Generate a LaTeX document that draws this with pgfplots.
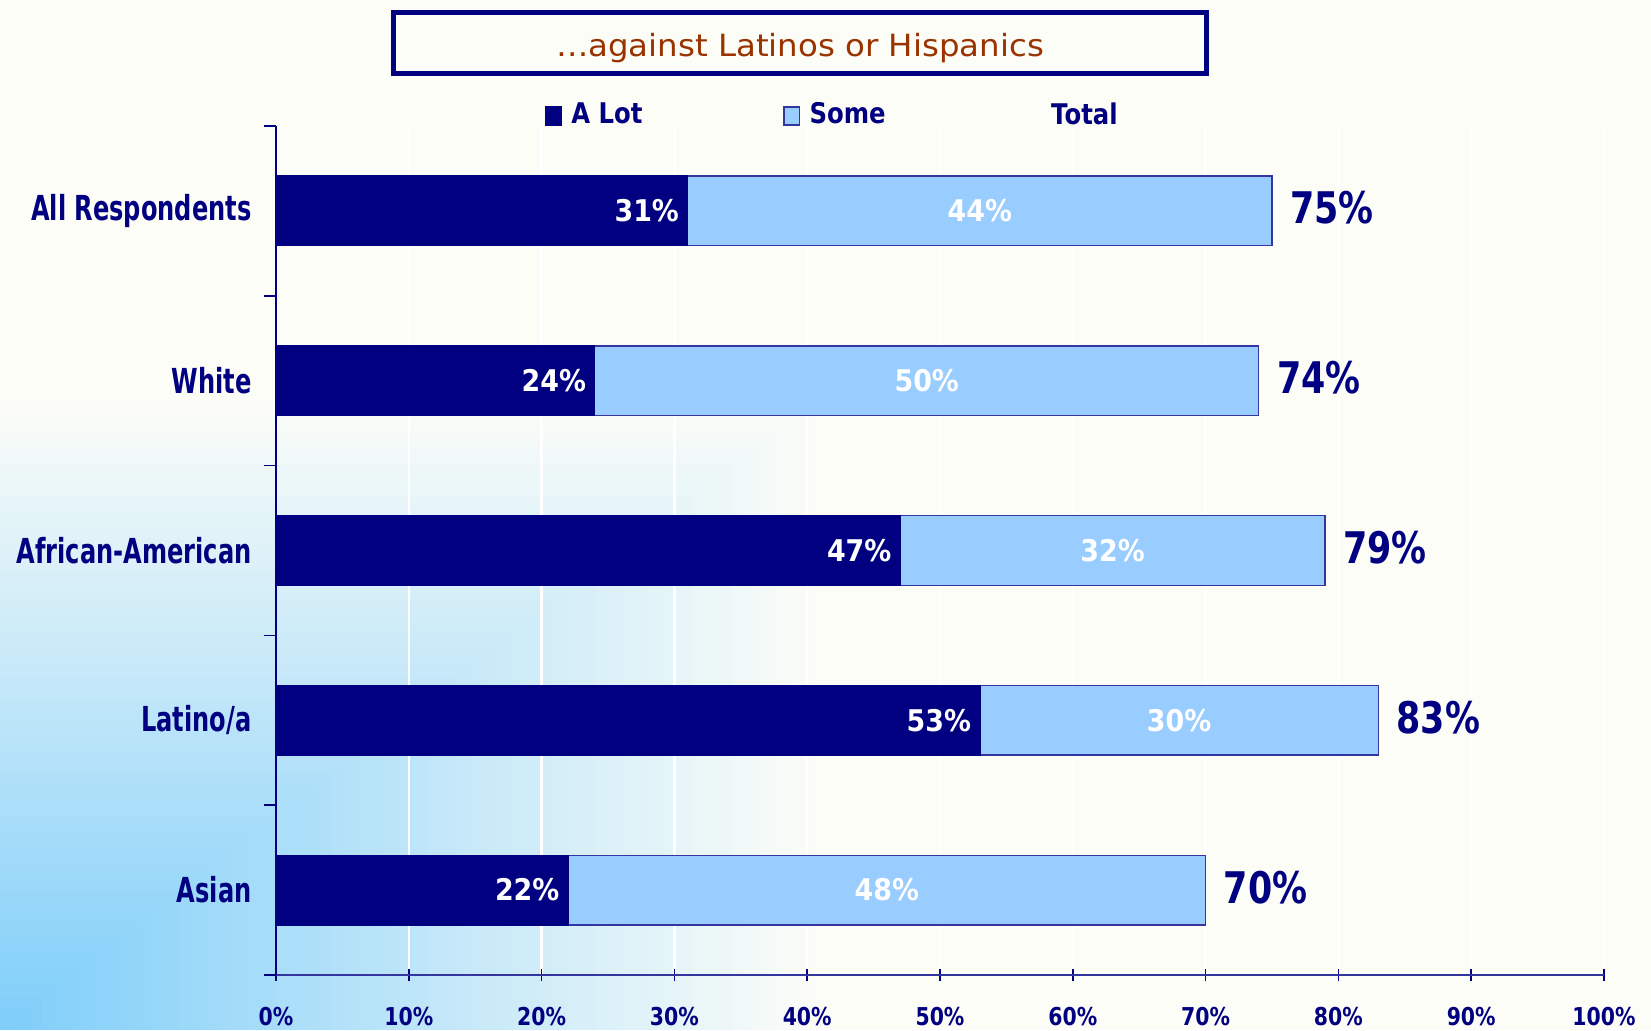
\documentclass[border=0pt]{standalone}
\usepackage{fontspec}
\usepackage{pgfplots}
\usepackage{pgfplotstable}
\pgfplotsset{compat=1.18}
\setmainfont{DejaVu Sans}
\newfontfamily\catfont{DejaVu Sans Bold}[FakeStretch=0.70]
\newfontfamily\barfont{DejaVu Sans Bold}[FakeStretch=0.90]
\newfontfamily\totfont{DejaVu Sans Bold}[FakeStretch=0.80]
\newfontfamily\tickfont{DejaVu Sans Bold}[FakeStretch=0.83]
\newfontfamily\legfont{DejaVu Sans Bold}[FakeStretch=0.855]
\newfontfamily\titlefont{DejaVu Sans}[FakeStretch=1.06]

\definecolor{navy}{HTML}{000080}
\definecolor{skybar}{HTML}{99CCFF}
\definecolor{rust}{HTML}{993300}
\definecolor{paper}{HTML}{FDFDF8}
\definecolor{corner}{HTML}{7DCDF9}
\definecolor{edge}{HTML}{3535A0}

% share saying there is a lot / some discrimination against Latinos or Hispanics
\pgfplotstableread{
idx alot some total
4   31   44   75
3   24   50   74
2   47   32   79
1   53   30   83
0   22   48   70
}\shares

\begin{document}
\begin{tikzpicture}
\useasboundingbox (0,0) rectangle (165.1mm,-103mm);
\fill[paper] (0,0) rectangle (165.1mm,-103mm);
% corner fade, bottom left
\foreach \i in {0,...,59}{
  \pgfmathsetmacro\t{1-\i/60}
  \pgfmathsetmacro\p{100*(1-\t)}
  \fill[corner!\p!paper] (0,-103mm) rectangle ({83mm*\t},{-103mm+64mm*\t});
}
\begin{axis}[
  at={(27.6mm,-97.5mm)}, anchor=south west,
  scale only axis, width=132.8mm, height=84.9mm,
  xbar stacked, bar width=19.8pt,
  legend image code/.code={\draw[#1] (0pt,-2.6pt) rectangle (4.5pt,2.6pt);},
  xmin=0, xmax=100, ymin=-0.5, ymax=4.5,
  clip=false,
  /pgf/number format/assume math mode=true,
  axis x line*=bottom, axis y line*=left,
  x axis line style={draw=edge, line width=0.6pt, -},
  y axis line style={draw=navy, line width=0.5pt, -},
  tick style={draw=navy, line width=0.5pt},
  major tick length=1.2mm,
  xtick={0,10,...,100}, xtick align=center,
  xticklabel={\pgfmathprintnumber{\tick}\%},
  xticklabel style={font=\tickfont\fontsize{7.0}{8}\selectfont, text=navy, yshift=-4pt},
  ytick={-0.5,0.5,...,4.5}, yticklabels={}, ytick align=outside,
  extra y ticks={0,1,2,3,4},
  extra y tick labels={Asian,Latino/a,African-American,White,All Respondents},
  extra y tick style={tick style={draw=none},
    yticklabel style={font=\catfont\fontsize{9.8}{11}\selectfont, text=navy}},
  xmajorgrids, major grid style={white, line width=0.7pt},
  legend columns=3, legend cell align=left,
  legend style={at={(0.2026,1.0118)}, anchor=west, draw=none, fill=none,
    inner sep=0pt, outer sep=0pt, nodes={inner sep=0pt},
    font=\legfont\fontsize{8.1}{10}\selectfont, text=navy,
    /tikz/every odd column/.append style={column sep=2.6pt},
    /tikz/every even column/.append style={column sep=40pt}},
  nodes near coords={\pgfmathprintnumber{\pgfplotspointmeta}\%},
  point meta=explicit,
]
\addplot[fill=navy, draw=navy, line width=0.4pt,
  visualization depends on={\thisrow{alot} \as \segw},
  every node near coord/.style={anchor=east, inner sep=0pt, xshift={\segw*0.664mm-2.3pt},
    font=\barfont\fontsize{8.5}{10}\selectfont, text=white}]
  table[x=alot, y=idx, meta=alot] {\shares};
\addplot[fill=skybar, draw=edge, line width=0.4pt,
  every node near coord/.style={anchor=center, inner sep=0pt,
    font=\barfont\fontsize{8.5}{10}\selectfont, text=white}]
  table[x=some, y=idx, meta=some] {\shares};
\addplot[stack plots=false, draw=none, fill=none,
  legend image code/.code={\path (0pt,-2.6pt) rectangle (4.5pt,2.6pt);},
  visualization depends on={\thisrow{total} \as \tw},
  every node near coord/.style={anchor=west, inner sep=0pt, xshift={\tw*0.664mm+5pt},
    yshift=0.8pt, font=\totfont\fontsize{12.4}{14}\selectfont, text=navy}]
  table[x=total, y=idx, meta=total] {\shares};
\legend{A Lot, Some, Total}
\end{axis}
\draw[navy, line width=0.5mm, fill=paper] (39.35mm,-1.2mm) rectangle (120.65mm,-7.35mm);
\node[anchor=base, inner sep=0pt, font=\titlefont\fontsize{8.7}{10}\selectfont, text=rust]
  at (80mm,-5.6mm) {…against Latinos or Hispanics};
\end{tikzpicture}
\end{document}
